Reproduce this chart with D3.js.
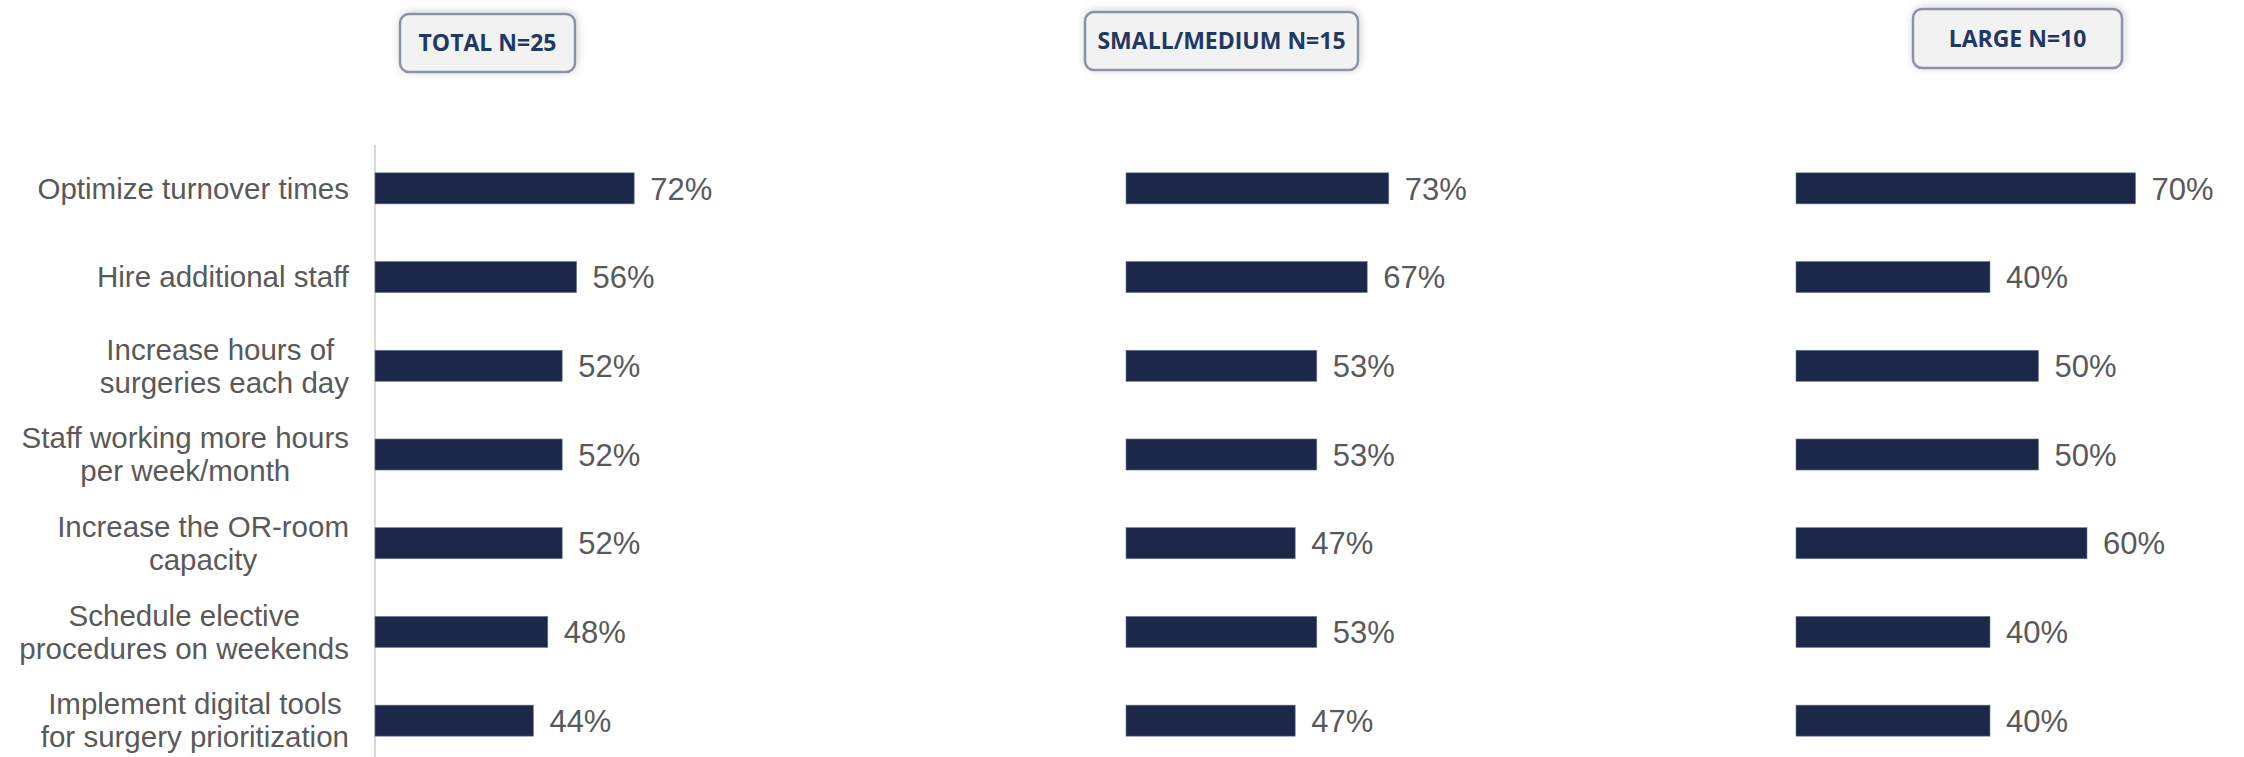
<!DOCTYPE html>
<html>
<head>
<meta charset="utf-8">
<script src="https://cdn.jsdelivr.net/npm/d3@7"></script>
<style>
  html, body { margin: 0; padding: 0; background: #ffffff; }
  svg { display: block; }
  text { white-space: pre; }
</style>
</head>
<body>
<svg id="chart" width="2244" height="757"></svg>
<script>
// ---- data ----
const categories = [
  ["Optimize turnover times"],
  ["Hire additional staff"],
  ["Increase hours of ", "surgeries each day"],
  ["Staff working more hours", "per week/month"],
  ["Increase the OR-room", "capacity"],
  ["Schedule elective", "procedures on weekends"],
  ["Implement digital tools", "for surgery prioritization"]
];
const groupTitles = ["TOTAL N=25", "SMALL/MEDIUM N=15", "LARGE N=10"];
const totalValues  = [72, 56, 52, 52, 52, 48, 44];
const smallMediumValues = [73, 67, 53, 53, 47, 53, 47];
const largeValues  = [70, 40, 50, 50, 60, 40, 40];

// ---- layout ----
const svg = d3.select("#chart");
const keys = categories.map((c, i) => i);

const y = d3.scaleBand()
  .domain(keys)
  .range([144, 765])
  .paddingInner(0.65)
  .paddingOuter(0.325);

const panels = [
  { title: groupTitles[0], values: totalValues,       x: d3.scaleLinear().domain([0, 100]).range([375, 735]),   box: [400, 14, 175, 58] },
  { title: groupTitles[1], values: smallMediumValues, x: d3.scaleLinear().domain([0, 100]).range([1126, 1486]), box: [1085, 12, 273, 58] },
  { title: groupTitles[2], values: largeValues,       x: d3.scaleLinear().domain([0, 100]).range([1796, 2281]), box: [1913, 9, 209, 59] }
];

// shadow filter
const defs = svg.append("defs");
const f = defs.append("filter").attr("id", "shadow").attr("x", "-20%").attr("y", "-40%").attr("width", "140%").attr("height", "180%");
f.append("feDropShadow").attr("dx", 1).attr("dy", -1).attr("stdDeviation", 4)
  .attr("flood-color", "#000").attr("flood-opacity", 0.18);

// header boxes
panels.forEach(p => {
  const [bx, by, bw, bh] = p.box;
  const g = svg.append("g");
  g.append("rect")
    .attr("x", bx).attr("y", by).attr("width", bw).attr("height", bh)
    .attr("rx", 9).attr("ry", 9)
    .attr("fill", "#f2f2f2")
    .attr("stroke", "#8a92a6")
    .attr("stroke-width", 2.5)
    .attr("filter", "url(#shadow)");
  g.append("text")
    .attr("x", bx + bw / 2).attr("y", by + bh / 2)
    .attr("dy", "0.36em")
    .attr("text-anchor", "middle")
    .attr("font-family", "'Open Sans', sans-serif")
    .attr("font-weight", 700)
    .attr("font-size", 23)
    .attr("fill", "#1f3864")
    .text(p.title);
});

// axis line for first panel
const yAxis = d3.axisLeft(y).tickSize(0).tickFormat("");
const axisG = svg.append("g").attr("transform", `translate(${panels[0].x(0)},0)`).call(yAxis);
axisG.select(".domain").attr("stroke", "#d9d9d9").attr("stroke-width", 2)
  .attr("d", `M0,145V757`);

// category labels
const labelRight = 349;
const lineH = 33;
const labelG = svg.append("g")
  .attr("font-family", "'Liberation Sans', Arial, sans-serif")
  .attr("font-size", 29.5)
  .attr("fill", "#595959");

categories.forEach((lines, i) => {
  const cy = y(i) + y.bandwidth() / 2;
  const t = labelG.append("text").attr("text-anchor", "middle");
  const spans = lines.map((ln, j) =>
    t.append("tspan")
      .attr("y", cy + (j - (lines.length - 1) / 2) * lineH)
      .attr("dy", "0.35em")
      .text(ln)
  );
  const maxW = d3.max(spans, s => s.node().getComputedTextLength());
  spans.forEach(s => s.attr("x", labelRight - maxW / 2));
});

// bars and value labels
panels.forEach(p => {
  const g = svg.append("g");
  g.selectAll("rect.bar")
    .data(p.values)
    .join("rect")
    .attr("class", "bar")
    .attr("x", p.x(0))
    .attr("y", (d, i) => y(i))
    .attr("width", d => p.x(d) - p.x(0))
    .attr("height", y.bandwidth())
    .attr("fill", "#1b2849")
    .attr("stroke", "#6f7c98")
    .attr("stroke-width", 0.6);
  g.selectAll("text.val")
    .data(p.values)
    .join("text")
    .attr("class", "val")
    .attr("x", d => p.x(d) + 16)
    .attr("y", (d, i) => y(i) + y.bandwidth() / 2)
    .attr("dy", "0.36em")
    .attr("font-family", "'Liberation Sans', Arial, sans-serif")
    .attr("font-size", 31)
    .attr("fill", "#595959")
    .text(d => d + "%");
});
</script>
</body>
</html>
